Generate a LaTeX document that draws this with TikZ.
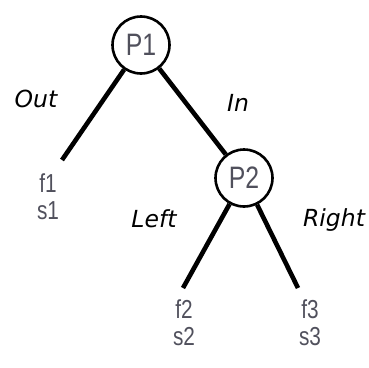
\documentclass[tikz,border=0pt]{standalone}
\usepackage{fontspec}
\newfontfamily\treefont[FakeStretch=0.8]{Liberation Sans}
\newfontfamily\edgefont{DejaVu Sans}
\definecolor{txtgray}{RGB}{80,80,92}
\begin{document}
\begin{tikzpicture}[x=1pt,y=-1pt,
    choice/.style={circle,draw,line width=2.6pt,minimum size=57pt,inner sep=0pt,
      font=\treefont\fontsize{31}{31}\selectfont,text=txtgray},
    leaf/.style={align=center,inner sep=0pt,anchor=base,
      font=\treefont\fontsize{26}{27}\selectfont,text=txtgray},
    branch/.style={line width=4.6pt},
    lab/.style={anchor=base,font=\edgefont\itshape\fontsize{23.5}{23.5}\selectfont}]
  \useasboundingbox (0,0) rectangle (369,367);
  % decision nodes
  \node[choice] (P1) at (141,45) {P1};
  \node[choice] (P2) at (244,178) {P2};
  % leaves
  \node[leaf] (f1) at (48,219) {f1\\s1};
  \node[leaf] (f2) at (184,345) {f2\\s2};
  \node[leaf] (f3) at (310,345) {f3\\s3};
  \coordinate (e1) at (62,160);
  \coordinate (e2) at (183,288);
  \coordinate (e3) at (298,288);
  % branches
  \draw[branch] (P1) -- (e1);
  \draw[branch] (P1) -- (P2);
  \draw[branch] (P2) -- (e2);
  \draw[branch] (P2) -- (e3);
  \node[lab] (out) at (36,107) {Out};
  \node[lab] (in) at (238,111) {In};
  \node[lab] (left) at (154,227) {Left};
  \node[lab] (right) at (334,226) {Right};
\end{tikzpicture}
\end{document}
